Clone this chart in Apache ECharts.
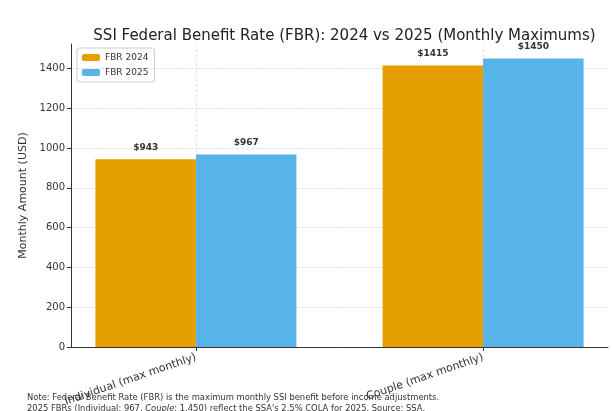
<!DOCTYPE html>
<html>
<head>
<meta charset="utf-8">
<script src="https://cdn.jsdelivr.net/npm/echarts@6/dist/echarts.min.js"></script>
<style>html,body{margin:0;padding:0;background:#fff;}#c{width:612px;height:411px;}</style>
</head>
<body>
<div id="c"></div>
<script>
const categories = ['Individual (max monthly)', 'Couple (max monthly)'];
const fbr2024 = [943, 1415];
const fbr2025 = [967, 1450];
const yTicks = [0, 200, 400, 600, 800, 1000, 1200, 1400];

const font = 'DejaVu Sans';
const chart = echarts.init(document.getElementById('c'));
const lbl = {
  show: true, position: 'top', distance: 7,
  fontFamily: font, fontSize: 9, fontWeight: 'bold', color: '#333',
  formatter: p => '$' + p.value[1]
};
chart.setOption({
  animation: false,
  textStyle: { fontFamily: font },
  title: {
    text: 'SSI Federal Benefit Rate (FBR): 2024 vs 2025 (Monthly Maximums)',
    left: 339.5, textAlign: 'center', top: 24,
    textStyle: { fontFamily: font, fontSize: 15, fontWeight: 'normal', color: '#222' }
  },
  legend: {
    left: 77, top: 48, orient: 'vertical',
    itemWidth: 18, itemHeight: 7, itemGap: 6,
    padding: [5, 6, 5, 5],
    borderColor: '#ccc', borderWidth: 1, borderRadius: 2,
    textStyle: { fontFamily: font, fontSize: 9, color: '#333' },
    data: ['FBR 2024', 'FBR 2025']
  },
  grid: { left: 71, right: 4, top: 44, bottom: 64, containLabel: false, outerBoundsMode: 'none' },
  xAxis: {
    type: 'value', min: -0.435, max: 1.435,
    axisLine: { show: true, lineStyle: { color: '#333', width: 1 } },
    axisTick: { show: true, customValues: [0, 1], length: 4, lineStyle: { color: '#333' } },
    axisLabel: {
      customValues: [0, 1], rotate: 19, margin: 10,
      fontFamily: font, fontSize: 11, color: '#333',
      formatter: v => categories[Math.round(v)]
    },
    splitLine: { show: true, customValues: [0, 1], lineStyle: { color: '#ddd', type: [3, 2], width: 0.8 } }
  },
  yAxis: {
    type: 'value', min: 0, max: 1522.5, interval: 200,
    name: 'Monthly Amount (USD)', nameLocation: 'middle', nameGap: 37,
    nameTextStyle: { fontFamily: font, fontSize: 11, color: '#333' },
    axisLine: { show: true, onZero: false, lineStyle: { color: '#333', width: 1 } },
    axisTick: { show: true, length: 4, lineStyle: { color: '#333' }, customValues: yTicks },
    axisLabel: { fontFamily: font, fontSize: 10, color: '#333', margin: 6, customValues: yTicks, formatter: v => String(v) },
    splitLine: { show: true, lineStyle: { color: '#ddd', type: [3, 2], width: 0.8 } }
  },
  series: [
    {
      name: 'FBR 2024', type: 'bar', barWidth: 100.5, barGap: '0%',
      itemStyle: { color: '#E69F00' },
      data: fbr2024.map((v, i) => [i, v]),
      label: lbl
    },
    {
      name: 'FBR 2025', type: 'bar', barWidth: 100.5, barGap: '0%',
      itemStyle: { color: '#56B4E9' },
      data: fbr2025.map((v, i) => [i, v]),
      label: lbl
    }
  ],
  graphic: [
    {
      type: 'text', left: 27, top: 392,
      style: {
        text: 'Note: Federal Benefit Rate (FBR) is the maximum monthly SSI benefit before income adjustments.\n2025 FBRs (Individual: 967, {i|Couple}: 1,450) reflect the SSA\'s 2.5% COLA for 2025. Source: SSA.',
        fontFamily: font, fontSize: 8.4, fill: '#333', lineHeight: 11,
        rich: { i: { fontStyle: 'italic', fontFamily: font, fontSize: 8.4, fill: '#333' } }
      }
    }
  ]
});
</script>
</body>
</html>
